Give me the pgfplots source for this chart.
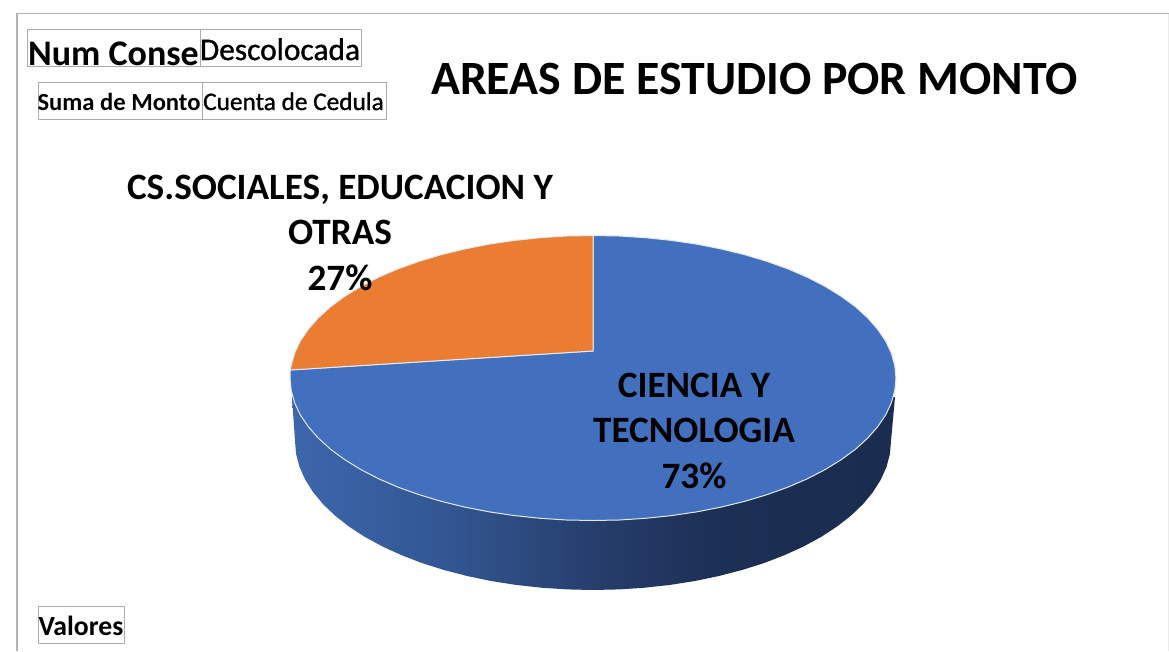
\documentclass[border=0pt]{standalone}
\usepackage{fontspec}
\setmainfont{Carlito}
\newfontfamily\semib[FakeBold=1.0]{Carlito}
\usepackage{pgfplots}
\pgfplotsset{compat=1.18}
\definecolor{pieblue}{HTML}{4270BF}
\definecolor{pieorange}{HTML}{EA7D31}
\definecolor{framegray}{HTML}{B4B4B4}
\definecolor{boxgray}{HTML}{ABABAB}
\definecolor{edgew}{HTML}{E4E8F0}
\definecolor{sa}{RGB}{61,102,172}
\definecolor{sb}{RGB}{50,86,146}
\definecolor{sc}{RGB}{38,62,108}
\definecolor{sd}{RGB}{28,47,84}
\definecolor{se}{RGB}{26,44,79}
\pgfdeclarehorizontalshading{pieside}{100bp}{
  color(0bp)=(sa);
  color(25bp)=(sa);
  color(38bp)=(sb);
  color(50bp)=(sc);
  color(60.5bp)=(sd);
  color(75bp)=(se);
  color(100bp)=(se)}
\newcommand{\fsz}[1]{\fontsize{#1}{#1}\selectfont}
\begin{document}
\begin{tikzpicture}
\begin{axis}[
  width=1169pt, height=651pt, scale only axis,
  xmin=0, xmax=1169, ymin=0, ymax=651, y dir=reverse,
  hide axis, clip=true]
\path (axis cs:0,0) rectangle (axis cs:1169,651);

% frame
\draw[framegray, line width=1.6pt] (axis cs:17,651) -- (axis cs:17,13.5) -- (axis cs:1169,13.5);
\draw[black!8, line width=0.8pt] (axis cs:1168,14) -- (axis cs:1168,651);

% pie side
\addplot[draw=none, shade, shading=pieside] coordinates {
 (292,397)(295,441)(296.1,454)(299.5,466.9)(305.2,479.6)(313,492)(322.9,504)(334.9,515.5)(348.9,526.5)(364.7,536.8)(382.3,546.4)(401.4,555.1)(422.1,563.1)(444,570)(467.1,576)(491.1,581)(515.9,584.9)(541.3,587.7)(567,589.4)(593,590)
 (619,589.4)(644.7,587.7)(670.1,584.9)(694.9,581)(718.9,576)(742,570)(763.9,563.1)(784.6,555.1)(803.7,546.4)(821.3,536.8)(837.1,526.5)(851.1,515.5)(863.1,504)(873,492)(880.8,479.6)(886.5,466.9)(889.9,454)(891,441)(895,397)
} -- cycle;

% blue slice: CIENCIA Y TECNOLOGIA 73
\addplot[draw=edgew, line width=1pt, fill=pieblue, line join=round] coordinates {
 (593,351)(593,235.5)
 (619.4,236)(645.6,237.7)(671.4,240.4)(696.6,244.1)(721,248.9)(744.5,254.6)(766.8,261.3)(787.8,268.8)(807.3,277.2)(825.1,286.4)(841.2,296.3)(855.4,306.7)(867.6,317.8)(877.7,329.3)(885.7,341.1)(891.4,353.3)(894.8,365.6)(896,378)
 (894.8,390.4)(891.4,402.7)(885.7,414.9)(877.7,426.7)(867.6,438.2)(855.4,449.3)(841.2,459.7)(825.1,469.6)(807.3,478.8)(787.8,487.2)(766.8,494.7)(744.5,501.4)(721,507.1)(696.6,511.9)(671.4,515.6)(645.6,518.3)(619.4,520)(593,520.5)
 (566.6,520)(540.4,518.3)(514.6,515.6)(489.4,511.9)(465,507.1)(441.5,501.4)(419.2,494.7)(398.2,487.2)(378.7,478.8)(360.9,469.6)(344.8,459.7)(330.6,449.3)(318.4,438.2)(308.3,426.7)(300.3,414.9)(294.6,402.7)(291.2,390.4)(290,378)(290.3,370)
} -- cycle;

% orange slice: CS.SOCIALES 27
\addplot[draw=edgew, line width=1pt, fill=pieorange, line join=round] coordinates {
 (593,351)(290.3,370)(291.2,365.6)(294.6,353.3)(300.3,341.1)(308.3,329.3)(318.4,317.8)(330.6,306.7)(344.8,296.3)(360.9,286.4)(378.7,277.2)(398.2,268.8)(419.2,261.3)(441.5,254.6)(465,248.9)(489.4,244.1)(514.6,240.4)(540.4,237.7)(566.6,236)(593,235.5)
} -- cycle;

% field buttons
\draw[boxgray, line width=1pt] (axis cs:27,29) rectangle (axis cs:200,66);
\draw[boxgray, line width=1pt] (axis cs:200,29) rectangle (axis cs:361,66);
\draw[boxgray, line width=1pt] (axis cs:38,82) rectangle (axis cs:202,119);
\draw[boxgray, line width=1pt] (axis cs:202,82) rectangle (axis cs:386,119);
\draw[boxgray, line width=1pt] (axis cs:38,606) rectangle (axis cs:124,643);

\node[anchor=base, inner sep=0pt] at (axis cs:113.5,65) {\fsz{36}\bfseries Num Conse};
\node[anchor=base, inner sep=0pt] at (axis cs:280,60) {\fsz{31.4}\semib Descolocada};
\node[anchor=base, inner sep=0pt] at (axis cs:119,110) {\fsz{24.6}\bfseries Suma de Monto};
\node[anchor=base, inner sep=0pt] at (axis cs:293.5,110) {\fsz{25.3}\semib Cuenta de Cedula};
\node[anchor=base, inner sep=0pt] at (axis cs:81,635.5) {\fsz{27.7}\bfseries Valores};

% title
\node[anchor=base, inner sep=0pt] at (axis cs:754.5,94) {\fsz{47.8}\bfseries AREAS DE ESTUDIO POR MONTO};

% data labels
\node[anchor=base, inner sep=0pt] at (axis cs:340,199) {\fsz{37.2}\bfseries CS.SOCIALES, EDUCACION Y};
\node[anchor=base, inner sep=0pt] at (axis cs:340,244) {\fsz{37.2}\bfseries OTRAS};
\node[anchor=base, inner sep=0pt] at (axis cs:340,290) {\fsz{37.2}\bfseries 27\%};
\node[anchor=base, inner sep=0pt] at (axis cs:694,397) {\fsz{37.2}\bfseries CIENCIA Y};
\node[anchor=base, inner sep=0pt] at (axis cs:694,442) {\fsz{37.2}\bfseries TECNOLOGIA};
\node[anchor=base, inner sep=0pt] at (axis cs:694,488) {\fsz{37.2}\bfseries 73\%};
\end{axis}
\end{tikzpicture}
\end{document}
